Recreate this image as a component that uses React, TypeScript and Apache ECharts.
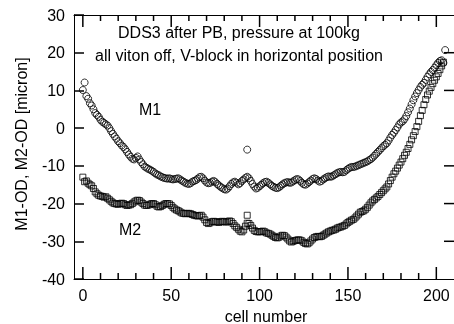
import React, { useEffect, useRef } from "react";
import * as echarts from "echarts";

// M1-OD per cell number (index = cell number)
const m1Values: number[] = [
  10.1, 12.1, 8.5, 7.8, 6.6, 6.0, 5.0, 4.0, 3.5, 3.0,
  2.2, 1.7, 1.4, 1.0, 0.7, 0.0, -0.8, -1.5, -2.2, -2.8,
  -3.5, -4.0, -4.6, -5.0, -5.6, -6.3, -7.0, -7.6, -8.1, -8.3,
  -7.9, -7.5, -8.3, -9.0, -9.6, -10.2, -10.5, -10.8, -11.0, -11.3,
  -11.6, -12.0, -12.3, -12.5, -12.8, -13.0, -13.2, -13.3, -13.4, -13.3,
  -13.5, -13.6, -13.5, -13.4, -13.3, -13.6, -13.9, -14.2, -14.5, -14.7,
  -14.8, -14.6, -14.2, -14.0, -13.8, -13.4, -13.0, -12.9, -13.3, -13.9,
  -14.4, -14.6, -14.5, -14.2, -14.0, -14.3, -14.8, -15.2, -15.6, -15.9,
  -16.2, -16.3, -16.0, -15.4, -14.8, -14.4, -14.2, -14.5, -14.9, -14.6,
  -14.0, -13.6, -13.2, -12.9, -13.3, -14.0, -14.8, -15.5, -16.0, -15.8,
  -15.4, -15.0, -14.6, -14.3, -14.2, -14.5, -14.9, -15.3, -15.6, -15.8,
  -15.9, -15.7, -15.3, -14.9, -14.6, -14.4, -14.3, -14.5, -14.4, -14.1,
  -13.8, -13.5, -13.6, -14.0, -14.5, -14.9, -15.0, -14.7, -14.3, -13.9,
  -13.5, -13.3, -13.5, -13.9, -14.2, -14.0, -13.6, -13.3, -13.0, -12.8,
  -12.9, -12.8, -12.5, -12.2, -11.9, -11.7, -11.6, -11.7, -11.6, -11.2,
  -10.8, -10.5, -10.3, -10.3, -10.2, -10.0, -9.8, -9.6, -9.4, -9.2,
  -9.0, -8.8, -8.5, -8.2, -7.8, -7.3, -6.8, -6.3, -5.8, -5.3,
  -4.8, -4.4, -4.0, -3.3, -2.5, -1.8, -1.2, -0.5, 0.2, 1.0,
  1.5, 1.8, 2.4, 3.2, 4.2, 5.2, 6.3, 7.4, 8.4, 9.3,
  10.1, 10.9, 11.5, 12.0, 12.8, 13.6, 14.3, 14.9, 15.4, 16.0,
  16.7, 17.3, 17.8, 18.0, 17.3, 20.7,
];

// M2-OD per cell number (index = cell number)
const m2Values: number[] = [
  -13.0, -14.2, -14.0, -14.6, -15.0, -15.3, -16.0, -16.9, -17.4, -17.8,
  -18.0, -18.1, -18.3, -18.2, -18.6, -19.0, -19.4, -19.8, -20.0, -20.1,
  -20.2, -20.0, -19.9, -20.0, -20.3, -20.5, -20.4, -20.3, -20.0, -19.6,
  -19.3, -19.1, -19.2, -19.6, -20.0, -20.4, -20.5, -20.4, -20.2, -20.0,
  -20.0, -20.3, -20.7, -20.9, -20.8, -20.5, -20.2, -20.0, -20.0, -20.1,
  -20.5, -21.0, -21.4, -21.7, -21.9, -22.2, -22.5, -22.6, -22.7, -22.6,
  -22.6, -22.7, -22.9, -23.1, -23.2, -23.3, -23.2, -23.1, -23.6, -24.3,
  -25.0, -25.3, -25.1, -24.8, -24.7, -24.8, -24.9, -25.0, -24.8, -24.7,
  -24.8, -24.9, -24.8, -24.6, -24.8, -25.3, -25.9, -26.3, -26.8, -27.3,
  -27.5, -27.0, -26.0, -25.2, -25.3, -25.8, -26.5, -27.1, -27.4, -27.5,
  -27.5, -27.4, -27.3, -27.5, -27.8, -27.9, -28.1, -28.4, -28.7, -29.0,
  -29.1, -28.9, -28.6, -28.4, -28.5, -28.9, -29.4, -29.9, -30.2, -30.0,
  -29.8, -29.7, -29.6, -29.7, -29.9, -30.3, -30.6, -30.7, -30.4, -29.9,
  -29.4, -29.0, -28.8, -28.7, -28.8, -28.7, -28.4, -28.1, -27.8, -27.5,
  -27.3, -27.1, -27.0, -26.8, -26.5, -26.3, -26.2, -26.0, -25.8, -25.4,
  -25.0, -24.7, -24.4, -24.2, -23.8, -23.3, -22.8, -22.3, -22.1, -21.9,
  -21.5, -21.0, -20.4, -19.8, -19.3, -18.9, -18.5, -18.1, -17.6, -17.1,
  -16.6, -16.1, -15.6, -14.8, -13.9, -13.0, -12.1, -11.4, -10.6, -9.8,
  -9.0, -8.1, -7.2, -6.4, -5.4, -4.3, -3.1, -2.0, -0.9, 0.4,
  1.8, 3.3, 4.7, 6.2, 7.6, 8.8, 9.8, 10.8, 11.8, 12.7,
  13.6, 14.5, 15.5, 16.5, 17.5,
];

// isolated extra readings at cell 93
const m1Outliers: number[][] = [[93, -5.7]];
const m2Outliers: number[][] = [[93, -23.1]];

const xMajorTicks = [0, 50, 100, 150, 200];
const xMinorTicks = [10, 20, 30, 40, 60, 70, 80, 90, 110, 120, 130, 140, 160, 170, 180, 190];
const yTicks = [-30, -20, -10, 0, 10, 20];

const titleLine1 = "DDS3 after PB, pressure at 100kg";
const titleLine2 = "all viton off, V-block in horizontal position";
const xTitle = "cell number";
const yTitle = "M1-OD, M2-OD [micron]";

const FONT = "Liberation Sans";

const XMIN = -5;
const XMAX = 210;
const YMIN = -40;
const YMAX = 30;
const TICK_W = 1.5;

// vertical tick mark hanging inward from the bottom (edge=YMIN) or top (edge=YMAX) frame
function xTickSeries(values: number[], edge: number, len: number) {
  const dir = edge === YMIN ? -1 : 1;
  return {
    type: "custom",
    encode: { x: 0, y: 1 },
    data: values.map((v) => [v, edge]),
    renderItem: (_p: any, api: any) => {
      const p = api.coord([api.value(0), edge]);
      return {
        type: "line",
        shape: { x1: p[0], y1: p[1], x2: p[0], y2: p[1] + dir * len },
        style: { stroke: "#000", lineWidth: TICK_W },
      };
    },
  };
}

// horizontal tick mark pointing inward from the right frame
function yRightTickSeries(values: number[], len: number) {
  return {
    type: "custom",
    encode: { x: 0, y: 1 },
    data: values.map((v) => [XMAX, v]),
    renderItem: (_p: any, api: any) => {
      const r = api.coord([XMAX, api.value(1)]);
      return {
        type: "line",
        shape: { x1: r[0], y1: r[1], x2: r[0] - len, y2: r[1] },
        style: { stroke: "#000", lineWidth: TICK_W },
      };
    },
  };
}

export default function App() {
  const ref = useRef<HTMLDivElement>(null);

  useEffect(() => {
    if (!ref.current) return;
    const chart = echarts.init(ref.current, undefined, { renderer: "svg" });

    const m1Data = m1Values.map((v, i) => [i, v]).concat(m1Outliers);
    const m2Data = m2Values.map((v, i) => [i, v]).concat(m2Outliers);

    chart.setOption({
      animation: false,
      grid: { left: 74, top: 15, width: 384, height: 264 },
      xAxis: [
        {
          type: "value",
          min: XMIN,
          max: XMAX,
          position: "bottom",
          splitLine: { show: false },
          axisLine: { show: true, onZero: false, lineStyle: { color: "#000", width: 1 } },
          axisTick: { show: false },
          axisLabel: { show: true, customValues: xMajorTicks, fontSize: 16, color: "#000", fontFamily: FONT, margin: 8 },
        },
        {
          type: "value",
          min: XMIN,
          max: XMAX,
          position: "top",
          splitLine: { show: false },
          axisLine: { show: true, onZero: false, lineStyle: { color: "#000", width: 1 } },
          axisTick: { show: false },
          axisLabel: { show: false },
        },
      ],
      yAxis: [
        {
          type: "value",
          min: YMIN,
          max: YMAX,
          interval: 10,
          position: "left",
          splitLine: { show: false },
          axisLine: { show: true, onZero: false, lineStyle: { color: "#000", width: 1 } },
          axisTick: { show: true, inside: true, length: 10, lineStyle: { color: "#000", width: TICK_W } },
          axisLabel: { fontSize: 16, color: "#000", fontFamily: FONT, margin: 9 },
        },
        {
          type: "value",
          min: YMIN,
          max: YMAX,
          interval: 10,
          position: "right",
          splitLine: { show: false },
          axisLine: { show: true, onZero: false, lineStyle: { color: "#000", width: 1 } },
          axisTick: { show: false },
          axisLabel: { show: false },
        },
      ],
      series: [
        xTickSeries(xMajorTicks, YMIN, 12),
        xTickSeries(xMinorTicks, YMIN, 6),
        xTickSeries(xMajorTicks, YMAX, 12),
        xTickSeries(xMinorTicks, YMAX, 6),
        yRightTickSeries(yTicks, 10),
        {
          name: "M1",
          type: "scatter",
          symbol: "circle",
          symbolSize: 7,
          itemStyle: { color: "rgba(255,255,255,0)", borderColor: "#000", borderWidth: 1 },
          data: m1Data,
        },
        {
          name: "M2",
          type: "scatter",
          symbol: "rect",
          symbolSize: 6,
          itemStyle: { color: "rgba(255,255,255,0)", borderColor: "#000", borderWidth: 1 },
          data: m2Data,
        },
      ],
      graphic: [
        { type: "text", x: 239, y: 32, style: { text: titleLine1, fontSize: 16, fontFamily: FONT, fill: "#000", align: "center", verticalAlign: "middle" } },
        { type: "text", x: 239, y: 55.5, style: { text: titleLine2, fontSize: 16, fontFamily: FONT, fill: "#000", align: "center", verticalAlign: "middle" } },
        { type: "text", x: 150, y: 109, style: { text: "M1", fontSize: 16, fontFamily: FONT, fill: "#000", align: "center", verticalAlign: "middle" } },
        { type: "text", x: 130, y: 229, style: { text: "M2", fontSize: 16, fontFamily: FONT, fill: "#000", align: "center", verticalAlign: "middle" } },
        { type: "text", x: 266, y: 316, style: { text: xTitle, fontSize: 16, fontFamily: FONT, fill: "#000", align: "center", verticalAlign: "middle" } },
        { type: "text", x: 21, y: 144, rotation: Math.PI / 2, style: { text: yTitle, fontSize: 16, fontFamily: FONT, fill: "#000", align: "center", verticalAlign: "middle" } },
      ],
    });

    return () => chart.dispose();
  }, []);

  return <div ref={ref} style={{ position: "fixed", left: 0, top: 0, width: 454, height: 324 }} />;
}
